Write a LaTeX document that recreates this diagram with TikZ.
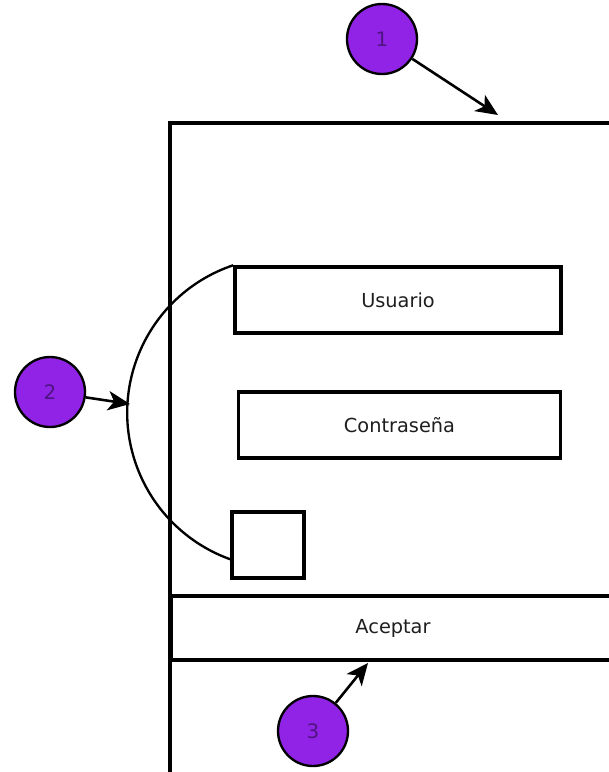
\documentclass[tikz,border=0pt]{standalone}
\usepackage{fontspec}
\setmainfont{DejaVu Sans}
\usetikzlibrary{arrows.meta}
\definecolor{bubblefill}{RGB}{145,35,230}
\definecolor{bubbletext}{RGB}{80,20,130}
\definecolor{labeltext}{RGB}{30,30,30}

\begin{document}
\begin{tikzpicture}[x=0.03cm,y=-0.03cm,
  field/.style={draw=black,line width=3pt,inner sep=0pt,font=\fontsize{16.5}{19}\selectfont,text=labeltext},
  bubble/.style={circle,draw=black,line width=2pt,fill=bubblefill,minimum size=2.1cm,inner sep=0pt,text=bubbletext,font=\fontsize{17}{19}\selectfont},
  pointer/.style={-{Stealth[length=0.66cm,width=0.58cm,inset=0.18cm]},line width=2.2pt}]
  \useasboundingbox (0,0) rectangle (609,772);
  \clip (0,0) rectangle (609,772);

  % window frame
  \draw[line width=3pt] (615,123) -- (170,123) -- (170,780);

  % form fields
  \node[field,minimum width=9.78cm,minimum height=1.98cm] (usuario) at (398,300) {Usuario};
  \node[field,minimum width=9.66cm,minimum height=1.98cm] (clave) at (399.5,425) {Contraseña};
  \node[field,minimum width=2.16cm,minimum height=1.98cm] (recordar) at (268,545) {};
  \node[field,minimum width=13.29cm,minimum height=1.92cm] (aceptar) at (393,628) {Aceptar};

  % bracket round the fields
  \draw[line width=2pt] (usuario.north west) arc[start angle=108.6,end angle=251.3,radius=4.67cm];
  \coordinate (arco) at (130,404);
  \coordinate (t1) at (498,115);
  \coordinate (t3) at (368,663);

  % numbered callouts
  \node[bubble] (b1) at (382,39) {1};
  \node[bubble] (b2) at (50,392) {2};
  \node[bubble] (b3) at (313,731) {3};
  \draw[pointer] (b1) -- (t1);
  \draw[pointer] (b2) -- (arco);
  \draw[pointer] (b3) -- (t3);
\end{tikzpicture}
\end{document}
